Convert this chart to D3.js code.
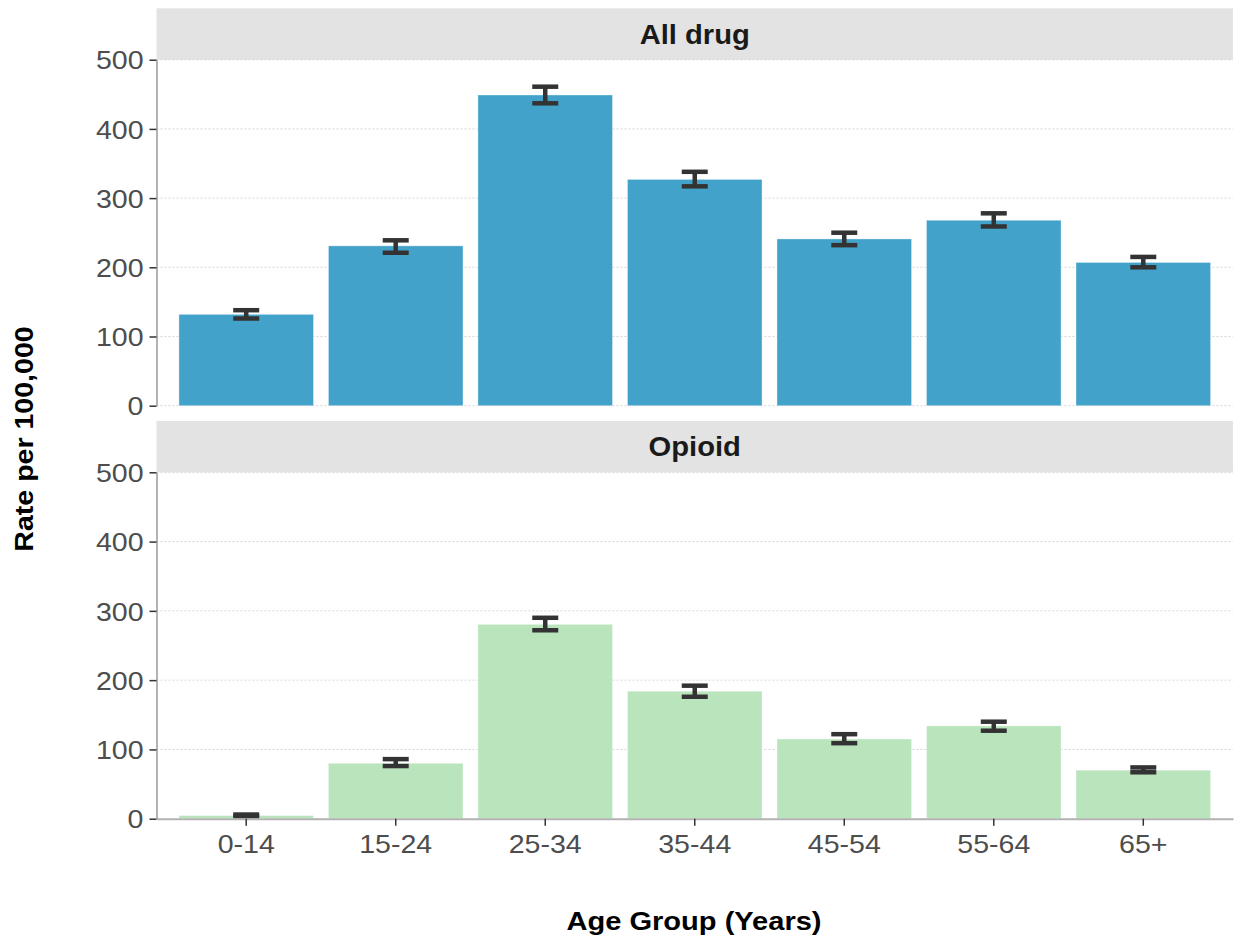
<!DOCTYPE html>
<html>
<head>
<meta charset="utf-8">
<script src="https://cdn.jsdelivr.net/npm/d3@7"></script>
<style>
  body { margin: 0; background: #fff; }
  text { font-family: "Liberation Sans", Arial, sans-serif; }
</style>
</head>
<body>
<div id="chart"></div>
<script>
// Data
const ageGroups = ["0-14", "15-24", "25-34", "35-44", "45-54", "55-64", "65+"];
const allDrugRate = [132, 231, 449, 327, 241, 268, 207];
const allDrugLow  = [126, 221, 437, 317, 232, 259, 200];
const allDrugHigh = [138, 239, 461, 338, 250, 278, 215];
const opioidRate = [4.5, 80, 280.5, 184, 115, 134, 70];
const opioidLow  = [3.5, 76, 272, 176, 109, 127, 67];
const opioidHigh = [6, 86, 290, 192, 122, 140, 74];
const yTicks = [0, 100, 200, 300, 400, 500];

const width = 1236, height = 941;
const plotLeft = 156.5, plotRight = 1233;
const stretch = 1.12; // glyphs in the reference are wider than Arial

const panels = [
  { name: "All drug", color: "#43a2ca", stripTop: 8.3, top: 59.7, bottom: 405.7,
    rate: allDrugRate, low: allDrugLow, high: allDrugHigh },
  { name: "Opioid", color: "#bae4bc", stripTop: 421, top: 472.3, bottom: 818.7,
    rate: opioidRate, low: opioidLow, high: opioidHigh }
];

const svg = d3.select("#chart")
  .append("svg")
  .attr("width", width)
  .attr("height", height);

const xScale = d3.scaleBand()
  .domain(ageGroups)
  .range([plotLeft, plotRight])
  .paddingInner(0.1)
  .paddingOuter(0.15);

panels.forEach((p, pi) => {
  const yScale = d3.scaleLinear().domain([0, 500]).range([p.bottom, p.top]);
  const g = svg.append("g");

  // strip
  g.append("rect")
    .attr("x", plotLeft)
    .attr("y", p.stripTop)
    .attr("width", plotRight - plotLeft)
    .attr("height", p.top - p.stripTop)
    .attr("fill", "#e3e3e3");

  g.append("text")
    .attr("transform", `translate(${(plotLeft + plotRight) / 2},${(p.stripTop + p.top) / 2}) scale(1.08,1)`)
    .attr("dy", "0.36em")
    .attr("text-anchor", "middle")
    .style("font-size", "27px")
    .style("font-weight", "bold")
    .style("fill", "#1a1a1a")
    .text(p.name);

  // gridlines
  g.selectAll(".grid")
    .data(yTicks)
    .join("line")
    .attr("x1", plotLeft)
    .attr("x2", plotRight)
    .attr("y1", d => yScale(d))
    .attr("y2", d => yScale(d))
    .attr("stroke", "#d6d6d6")
    .attr("stroke-width", 1)
    .attr("stroke-dasharray", "2,2");

  const rows = ageGroups.map((a, i) => ({ age: a, rate: p.rate[i], low: p.low[i], high: p.high[i] }));

  // bars
  g.selectAll(".bar")
    .data(rows)
    .join("rect")
    .attr("x", d => xScale(d.age))
    .attr("y", d => yScale(d.rate))
    .attr("width", xScale.bandwidth())
    .attr("height", d => yScale(0) - yScale(d.rate))
    .attr("fill", p.color)
    .attr("stroke", "#ffffff")
    .attr("stroke-opacity", 0.35)
    .attr("stroke-width", 1);

  // error bars
  const capW = 26;
  const cx = d => xScale(d.age) + xScale.bandwidth() / 2;
  const err = g.selectAll(".err")
    .data(rows)
    .join("g")
    .attr("stroke", "#333333")
    .attr("stroke-width", 4.5);
  err.append("line")
    .attr("x1", cx)
    .attr("x2", cx)
    .attr("y1", d => yScale(d.low))
    .attr("y2", d => yScale(d.high));
  err.append("line")
    .attr("x1", d => cx(d) - capW / 2)
    .attr("x2", d => cx(d) + capW / 2)
    .attr("y1", d => yScale(d.low))
    .attr("y2", d => yScale(d.low));
  err.append("line")
    .attr("x1", d => cx(d) - capW / 2)
    .attr("x2", d => cx(d) + capW / 2)
    .attr("y1", d => yScale(d.high))
    .attr("y2", d => yScale(d.high));

  // y axis
  const yAxis = g.append("g")
    .attr("transform", `translate(${plotLeft},0)`)
    .call(d3.axisLeft(yScale).tickValues(yTicks).tickSize(7).tickSizeOuter(0).tickPadding(5));
  yAxis.select(".domain").attr("stroke", "#b3b3b3").attr("stroke-width", 2);
  yAxis.selectAll(".tick line").attr("stroke", "#333333").attr("stroke-width", 1.5);
  yAxis.selectAll(".tick text")
    .attr("x", -13 / stretch)
    .attr("dy", "0.36em")
    .attr("transform", `scale(${stretch},1)`)
    .style("font-size", "25.5px")
    .style("font-family", "'Liberation Sans', Arial, sans-serif")
    .style("fill", "#4d4d4d");

  // x axis only under last panel
  if (pi === panels.length - 1) {
    const xAxis = g.append("g")
      .attr("transform", `translate(0,${p.bottom})`)
      .call(d3.axisBottom(xScale).tickSize(7).tickSizeOuter(0).tickPadding(9));
    xAxis.select(".domain").attr("stroke", "#b3b3b3").attr("stroke-width", 2);
    xAxis.selectAll(".tick line").attr("stroke", "#333333").attr("stroke-width", 1.5);
    xAxis.selectAll(".tick text")
      .attr("dy", "0.72em")
      .attr("transform", `scale(${stretch},1)`)
      .style("font-size", "25.5px")
      .style("font-family", "'Liberation Sans', Arial, sans-serif")
      .style("fill", "#4d4d4d");
  }
});

// Axis titles
svg.append("text")
  .attr("transform", `translate(694,930) scale(1.14,1)`)
  .attr("text-anchor", "middle")
  .style("font-size", "25.5px")
  .style("font-weight", "bold")
  .text("Age Group (Years)");

svg.append("text")
  .attr("transform", `translate(33.3,439) rotate(-90) scale(${stretch},1)`)
  .attr("text-anchor", "middle")
  .style("font-size", "25.5px")
  .style("font-weight", "bold")
  .text("Rate per 100,000");
</script>
</body>
</html>
